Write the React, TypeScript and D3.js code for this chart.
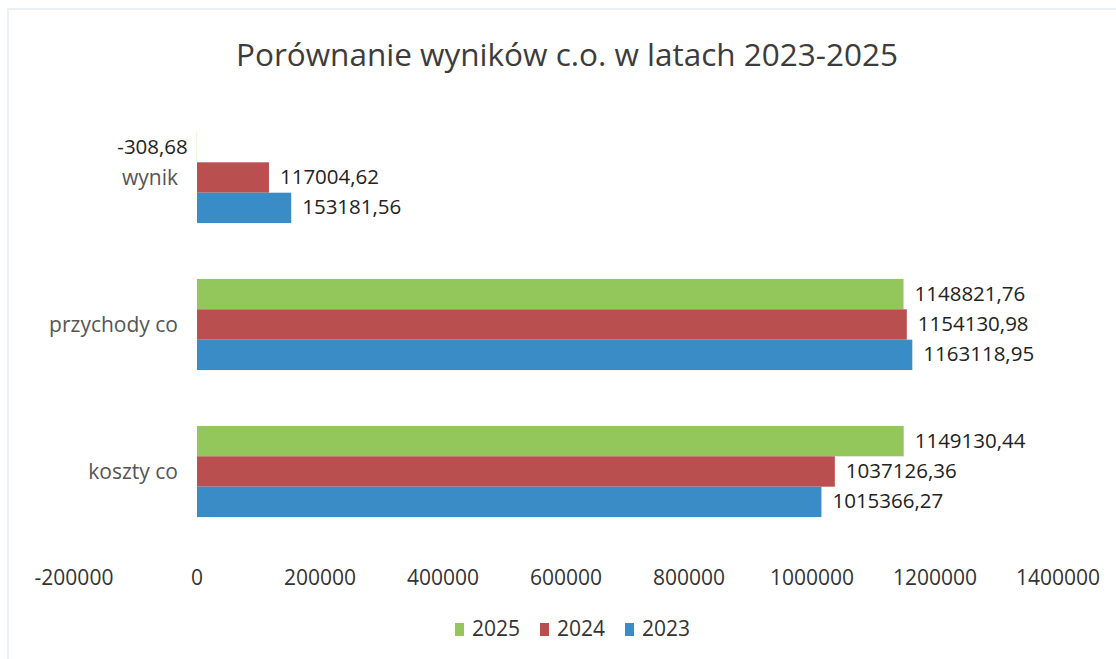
import React from "react";
import * as d3 from "d3";

const categories = ["wynik", "przychody co", "koszty co"];
const years = ["2025", "2024", "2023"];
const values2025 = [-308.68, 1148821.76, 1149130.44];
const values2024 = [117004.62, 1154130.98, 1037126.36];
const values2023 = [153181.56, 1163118.95, 1015366.27];
const labels2025 = ["-308,68", "1148821,76", "1149130,44"];
const labels2024 = ["117004,62", "1154130,98", "1037126,36"];
const labels2023 = ["153181,56", "1163118,95", "1015366,27"];
const xTicks = [-200000, 0, 200000, 400000, 600000, 800000, 1000000, 1200000, 1400000];
const colors = ["#93c75c", "#b9504f", "#3a8cc7"];
const title = "Porównanie wyników c.o. w latach 2023-2025";

const W = 1116;
const H = 659;

export default function App() {
  const x = d3.scaleLinear().domain([-200000, 1400000]).range([74, 1058]);
  const y = d3
    .scaleBand<string>()
    .domain(categories)
    .range([104, 545])
    .paddingInner(0.38)
    .paddingOuter(0.19);
  const sub = d3.scaleBand<string>().domain(years).range([0, y.bandwidth()]);
  const series = [values2025, values2024, values2023];
  const labelSets = [labels2025, labels2024, labels2023];
  const font = "'Open Sans', 'Noto Sans', sans-serif";

  return (
    <div style={{ position: "absolute", left: 0, top: 0 }}>
      <svg width={W} height={H} style={{ display: "block", background: "#fff" }}>
        <rect x={8} y={9} width={W} height={H} fill="none" stroke="#e3ecf0" strokeWidth={1.5} />
        <text
          x={567}
          y={66}
          textAnchor="middle"
          fontFamily={font}
          fontSize={31.5}
          fill="#3c3c3c"
        >
          {title}
        </text>
        {categories.map((c, ci) => (
          <g key={c}>
            <text
              x={178}
              y={(y(c) as number) + y.bandwidth() / 2 + 2}
              textAnchor="end"
              dominantBaseline="middle"
              fontFamily={font}
              fontSize={21}
              fill="#555"
            >
              {c}
            </text>
            {years.map((yr, si) => {
              const v = series[si][ci];
              const y0 = (y(c) as number) + (sub(yr) as number);
              const x0 = x(Math.min(0, v));
              const x1 = x(Math.max(0, v));
              const h = sub.bandwidth();
              return (
                <g key={yr}>
                  <rect x={x0} y={y0} width={x1 - x0} height={h} fill={colors[si]} />
                  <text
                    x={v >= 0 ? x(v) + 11 : x(v) - 9}
                    y={y0 + h / 2 + 1}
                    textAnchor={v >= 0 ? "start" : "end"}
                    dominantBaseline="middle"
                    fontFamily={font}
                    fontSize={20.5}
                    fill="#222"
                  >
                    {labelSets[si][ci]}
                  </text>
                </g>
              );
            })}
          </g>
        ))}
        {xTicks.map((t) => (
          <text
            key={t}
            x={x(t)}
            y={579}
            textAnchor="middle"
            dominantBaseline="middle"
            fontFamily={font}
            fontSize={21}
            fill="#333"
          >
            {String(t)}
          </text>
        ))}
        {years.map((yr, i) => {
          const lx = 455 + i * 85;
          return (
            <g key={yr}>
              <rect x={lx} y={623} width={9} height={13} fill={colors[i]} />
              <text
                x={lx + 17}
                y={630}
                dominantBaseline="middle"
                fontFamily={font}
                fontSize={21}
                fill="#333"
              >
                {yr}
              </text>
            </g>
          );
        })}
      </svg>
    </div>
  );
}
